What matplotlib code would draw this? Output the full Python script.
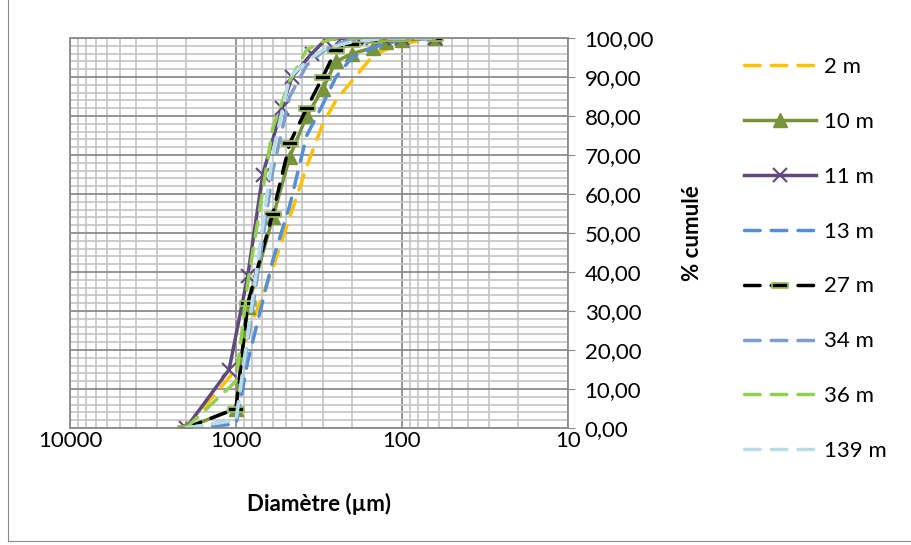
import numpy as np
import matplotlib
matplotlib.use('Agg')
import matplotlib.pyplot as plt
from matplotlib.ticker import LogLocator, MultipleLocator, NullFormatter, FixedLocator, FixedFormatter
from matplotlib.path import Path
from matplotlib.patches import Rectangle

plt.rcParams['font.family'] = ['Lato', 'DejaVu Sans']

# Sieve openings (µm)
sieves = [2000, 1000, 850, 600, 475, 375, 300, 250, 200, 150, 125, 100, 63]
sieves_11m = [2000, 1100, 850, 690, 530, 460, 350, 290, 230, 190, 150, 130, 100, 63]

# Cumulative % passing for each depth
y_2m = [0, 15, 24, 41, 54, 67, 78, 84, 89, 95.5, 97, 98.5, 100]
y_10m = [0, 5, 31, 54, 69.5, 80, 87, 94, 96, 97.5, 99, 99.5, 100]
y_11m = [0, 15, 39, 65, 82, 90, 96, 99.5, 100, 100, 100, 100, 100, 100]
y_13m = [0, 1, 17, 43, 57, 75, 83, 90, 95, 97.5, 98.5, 99.5, 100]
y_27m = [0, 5, 32, 55, 73, 82, 90, 97, 98.5, 99.5, 100, 100, 100]
y_34m = [0, 2, 22, 66, 85, 93, 96.5, 98.5, 99.5, 100, 100, 100, 100]
y_36m = [0, 12, 37, 77, 89, 97, 99, 100, 100, 100, 100, 100, 100]
y_139m = [0, 2, 24, 70.5, 90, 94, 97, 98, 99, 99.5, 100, 100, 100]

labels = ['2 m', '10 m', '11 m', '13 m', '27 m', '34 m', '36 m', '139 m']

fs = 16

fig = plt.figure(figsize=(9.11, 5.45), dpi=100)
ax = fig.add_axes([70 / 911, 1 - 428 / 545, 498 / 911, 390 / 545])

# chart border
fig.patches.append(Rectangle((8 / 911, 4 / 545), 1.2, 1.2, transform=fig.transFigure,
                             fill=False, edgecolor='#8a8a8a', lw=0.8))

lw = 2.5
dash = (4.5, 3.2)
bar = Path([(-1, -0.3), (1, -0.3), (1, 0.3), (-1, 0.3), (-1, -0.3)],
           [Path.MOVETO, Path.LINETO, Path.LINETO, Path.LINETO, Path.CLOSEPOLY])

ax.plot(sieves, y_2m, color='#FFC000', lw=lw, dashes=dash, dash_capstyle='round', label=labels[0])
ax.plot(sieves, y_10m, color='#77933C', lw=lw, marker='^', ms=10, label=labels[1])
ax.plot(sieves_11m, y_11m, color='#604A7B', lw=lw, marker='x', ms=10, mew=1.5, label=labels[2])
ax.plot(sieves, y_13m, color='#558ED5', lw=lw, dashes=dash, dash_capstyle='round', label=labels[3])
ax.plot(sieves, y_27m, color='black', lw=lw, dashes=dash, dash_capstyle='round',
        marker=bar, ms=12, mfc='black', mec='#9BBB59', mew=1.3, label=labels[4])
ax.plot(sieves, y_34m, color='#7F9ED0', lw=lw, dashes=dash, dash_capstyle='round', label=labels[5])
ax.plot(sieves, y_36m, color='#92D050', lw=lw, dashes=dash, dash_capstyle='round', label=labels[6])
ax.plot(sieves, y_139m, color='#B7DEE8', lw=lw, dashes=dash, dash_capstyle='round', label=labels[7])

ax.set_xscale('log')
ax.set_xlim(10000, 10)
ax.set_ylim(0, 100)

ax.xaxis.set_major_locator(FixedLocator([10000, 1000, 100, 10]))
ax.xaxis.set_major_formatter(FixedFormatter(['10000', '1000', '100', '10']))
ax.xaxis.set_minor_locator(LogLocator(base=10, subs=np.arange(2, 10)))
ax.xaxis.set_minor_formatter(NullFormatter())

ax.yaxis.tick_right()
ax.yaxis.set_label_position('right')
ax.yaxis.set_minor_locator(MultipleLocator(2))
ax.set_yticks(np.arange(0, 101, 10))
ax.set_yticklabels([f'{v:.2f}'.replace('.', ',') for v in np.arange(0, 101, 10)])

ax.grid(which='major', color='#8c8c8c', lw=1.3)
ax.grid(which='minor', color='#c4c4c4', lw=1.2)
ax.set_axisbelow(True)
for s in ax.spines.values():
    s.set_color('#8c8c8c')
    s.set_linewidth(1.3)

ax.tick_params(which='major', length=5, color='#8c8c8c', labelsize=fs)
ax.tick_params(which='minor', length=0)
ax.tick_params(axis='x', length=0, pad=2)
ax.tick_params(axis='y', pad=7)

ax.set_xlabel('Diamètre (µm)', fontsize=fs, fontweight='bold', labelpad=30)
ax.set_ylabel('% cumulé', fontsize=fs, fontweight='bold', labelpad=20)

ax.legend(loc='upper left', bbox_to_anchor=(735 / 911, 1 - 48 / 545), bbox_transform=fig.transFigure,
          frameon=False, fontsize=fs, handlelength=3.25, labelspacing=1.57,
          handletextpad=0.35, borderaxespad=0)

fig.savefig('out.png', dpi=100)
